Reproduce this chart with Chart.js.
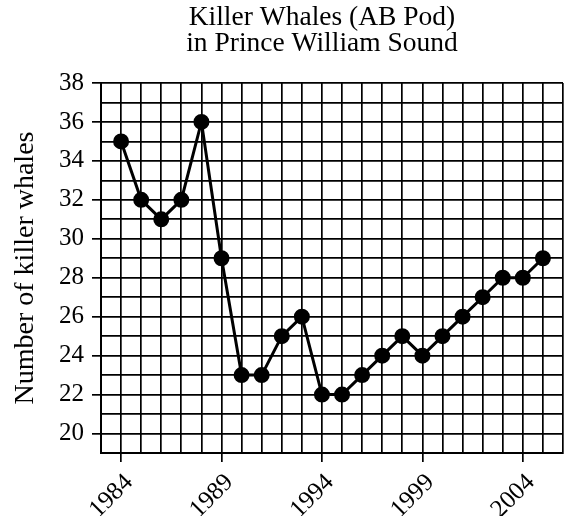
<!DOCTYPE html>
<html>
<head>
<meta charset="utf-8">
<script src="https://cdn.jsdelivr.net/npm/chart.js@4.4.1/dist/chart.umd.min.js"></script>
<style>
  html, body { margin: 0; padding: 0; background: #fff; }
  #wrap { width: 582px; height: 516px; }
</style>
</head>
<body>
<div id="wrap"><canvas id="c" width="582" height="516"></canvas></div>
<script>
// AB Pod head count by year
const years = [1984, 1985, 1986, 1987, 1988, 1989, 1990, 1991, 1992, 1993, 1994,
               1995, 1996, 1997, 1998, 1999, 2000, 2001, 2002, 2003, 2004, 2005];
const whales = [35, 32, 31, 32, 36, 29, 23, 23, 25, 26, 22,
                22, 23, 24, 25, 24, 25, 26, 27, 28, 28, 29];
const yearLabels = [1984, 1989, 1994, 1999, 2004];
const countLabels = [20, 22, 24, 26, 28, 30, 32, 34, 36, 38];
const titleLines = ['Killer Whales (AB Pod)', 'in Prince William Sound'];
const yTitle = 'Number of killer whales';

const SERIF = "'Liberation Serif', 'Times New Roman', serif";

// two-line heading drawn above the plot
const titlePlugin = {
  id: 'twoLineTitle',
  afterDraw(chart) {
    const ctx = chart.ctx;
    ctx.save();
    ctx.fillStyle = '#000';
    ctx.font = '27.5px ' + SERIF;
    ctx.textAlign = 'center';
    ctx.textBaseline = 'alphabetic';
    const cx = (chart.chartArea.left + chart.chartArea.right) / 2 - 10;
    ctx.fillText(titleLines[0], cx, 25);
    ctx.fillText(titleLines[1], cx, 51);
    ctx.restore();
  }
};

new Chart(document.getElementById('c'), {
  type: 'line',
  data: {
    datasets: [{
      data: years.map((y, i) => ({ x: y, y: whales[i] })),
      borderColor: '#000',
      backgroundColor: '#000',
      borderWidth: 3,
      pointRadius: 6.5,
      pointHoverRadius: 6.5,
      pointBackgroundColor: '#000',
      pointBorderColor: '#000',
      tension: 0,
      fill: false
    }]
  },
  options: {
    responsive: false,
    animation: false,
    events: [],
    layout: { padding: { top: 83, right: 19, left: 0, bottom: 0 } },
    plugins: { legend: { display: false }, tooltip: { enabled: false }, title: { display: false } },
    scales: {
      x: {
        type: 'linear',
        min: 1983,
        max: 2006,
        afterFit(scale) {
          scale.height = 63;
          scale.paddingLeft = 0;
          scale.paddingRight = 0;
        },
        grid: {
          color: '#000',
          lineWidth: 1.7,
          drawTicks: true,
          tickLength: 9,
          tickWidth: 1.7,
          tickColor: (c) => yearLabels.includes(c.tick && c.tick.value) ? '#000' : 'rgba(0,0,0,0)'
        },
        border: { color: '#000', width: 2 },
        ticks: {
          stepSize: 1,
          autoSkip: false,
          minRotation: 45,
          maxRotation: 45,
          padding: 6,
          labelOffset: 8,
          color: '#000',
          font: { family: SERIF, size: 25 },
          callback: (v) => yearLabels.includes(v) ? String(v) : ''
        }
      },
      y: {
        type: 'linear',
        min: 19,
        max: 38,
        afterFit(scale) {
          scale.width = 101;
          scale.paddingTop = 0;
          scale.paddingBottom = 0;
        },
        grid: {
          color: '#000',
          lineWidth: 1.7,
          drawTicks: true,
          tickLength: 9,
          tickWidth: 1.7,
          tickColor: (c) => countLabels.includes(c.tick && c.tick.value) ? '#000' : 'rgba(0,0,0,0)'
        },
        border: { color: '#000', width: 2 },
        ticks: {
          stepSize: 1,
          autoSkip: false,
          padding: 8,
          color: '#000',
          font: { family: SERIF, size: 25 },
          callback: (v) => countLabels.includes(v) ? String(v) : ''
        },
        title: {
          display: true,
          text: yTitle,
          color: '#000',
          font: { family: SERIF, size: 28 },
          padding: { top: 9, bottom: 0 }
        }
      }
    }
  },
  plugins: [titlePlugin]
});
</script>
</body>
</html>
